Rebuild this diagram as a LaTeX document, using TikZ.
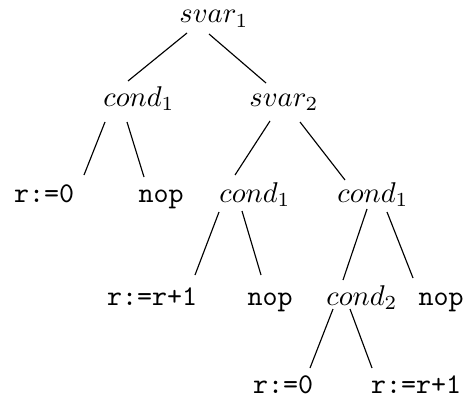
\documentclass[tikz,border=0pt]{standalone}
\usepackage{amsmath}
\usepackage{tikz}
\usetikzlibrary{positioning,calc}

\begin{document}
\begin{tikzpicture}[
    x=0.35pt, y=-0.35pt,
    lbl/.style={inner sep=0pt, anchor=base},
    op/.style={lbl, font=\ttfamily},
    branch/.style={draw=black, line width=0.4pt}
]
\useasboundingbox (0,0) rectangle (465,398);

% tree nodes (placed at their baselines)
\node[lbl] (s1) at (214,23) {$svar_1$};
\node[lbl] (c1) at (139,106) {$cond_1$};
\node[lbl] (s2) at (284,106) {$svar_2$};
\node[op]  (a1) at (44,202) {r:=0};
\node[op]  (n1) at (161,202) {nop};
\node[lbl] (c2) at (255,202) {$cond_1$};
\node[lbl] (c3) at (373,202) {$cond_1$};
\node[op]  (a2) at (152,305) {r:=r+1};
\node[op]  (n2) at (270,305) {nop};
\node[lbl] (c4) at (362,305) {$cond_2$};
\node[op]  (n3) at (441,305) {nop};
\node[op]  (a3) at (283,393) {r:=0};
\node[op]  (a4) at (416,393) {r:=r+1};

% branches
\draw[branch] ($(s1.base)+(-27,10)$) -- ($(c1.base)+(-11,-25)$);
\draw[branch] ($(s1.base)+(-5,11)$) -- ($(s2.base)+(-18,-23)$);
\draw[branch] ($(c1.base)+(-34,16)$) -- ($(a1.base)+(40,-27)$);
\draw[branch] ($(c1.base)+(-12,16)$) -- ($(n1.base)+(-17,-25)$);
\draw[branch] ($(s2.base)+(-14,15)$) -- ($(c2.base)+(-20,-27)$);
\draw[branch] ($(s2.base)+(16,16)$) -- ($(c3.base)+(-28,-22)$);
\draw[branch] ($(c2.base)+(-36,10)$) -- ($(a2.base)+(43,-30)$);
\draw[branch] ($(c2.base)+(-13,9)$) -- ($(n2.base)+(-9,-30)$);
\draw[branch] ($(c3.base)+(-6,7)$) -- ($(c4.base)+(-19,-25)$);
\draw[branch] ($(c3.base)+(14,10)$) -- ($(n3.base)+(-28,-27)$);
\draw[branch] ($(c4.base)+(-29,4)$) -- ($(a3.base)+(27,-25)$);
\draw[branch] ($(c4.base)+(-12,4)$) -- ($(a4.base)+(-44,-25)$);

\end{tikzpicture}
\end{document}
